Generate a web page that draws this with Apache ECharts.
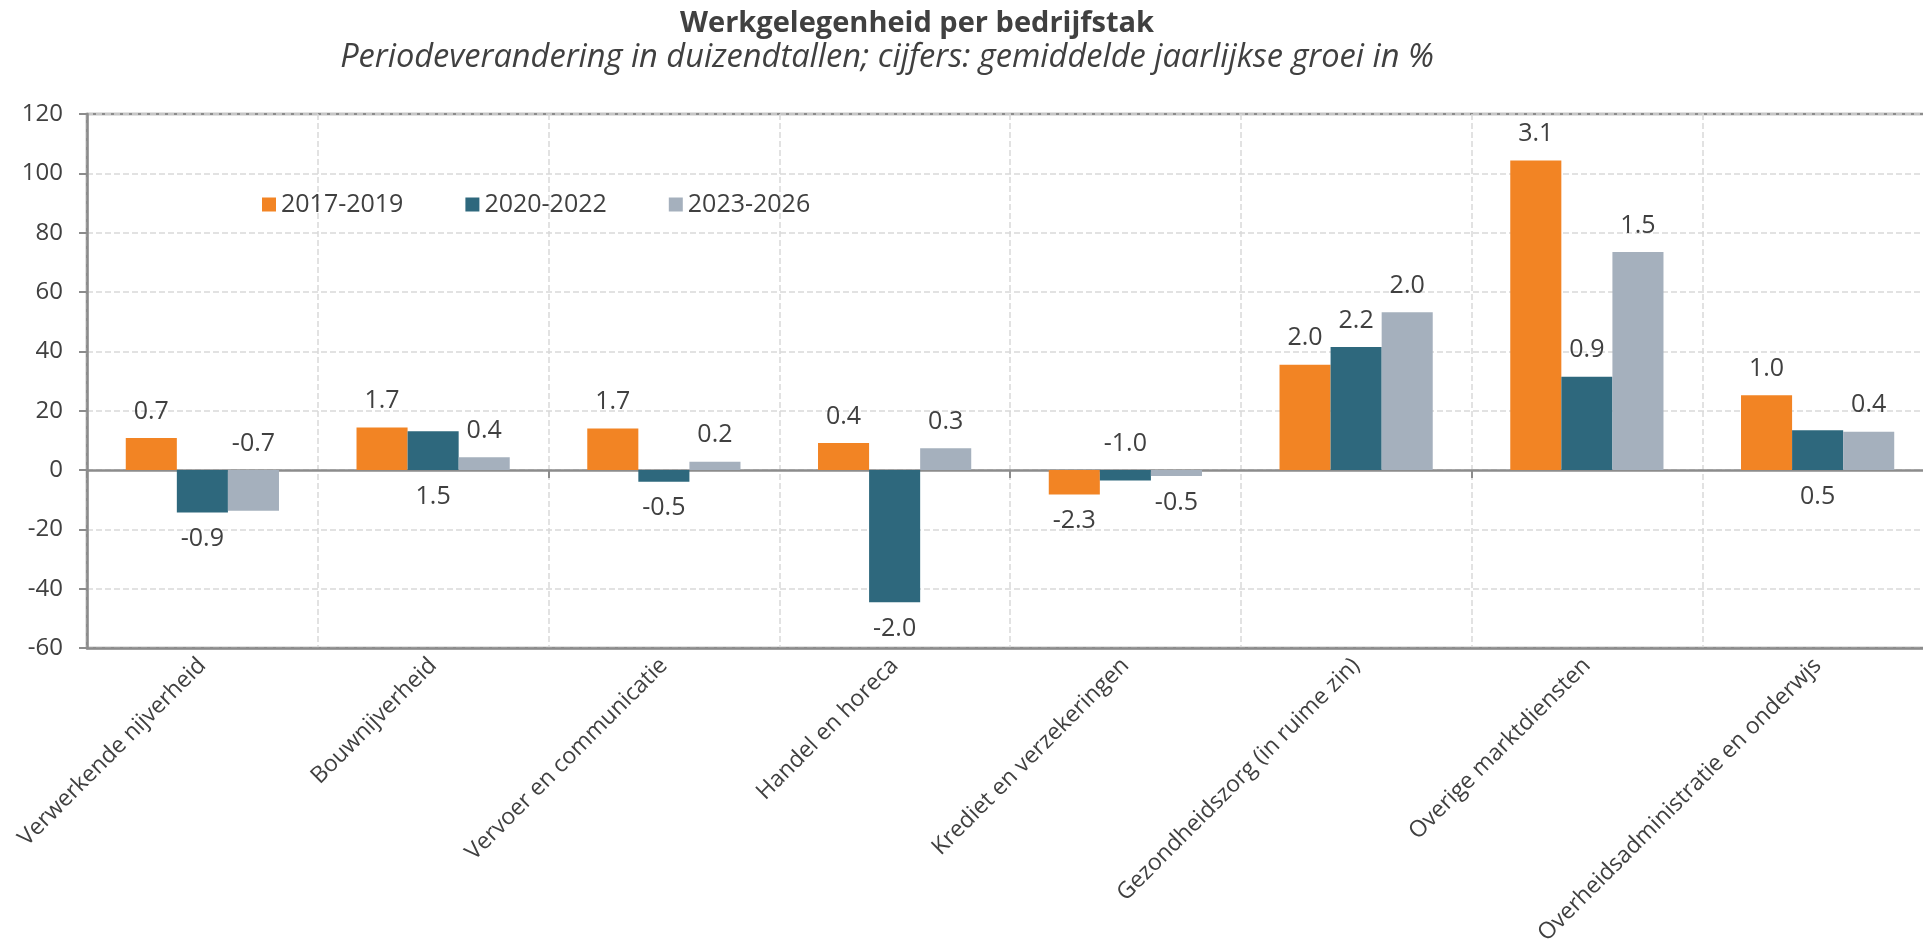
<!DOCTYPE html>
<html>
<head>
<meta charset="utf-8">
<title>Werkgelegenheid per bedrijfstak</title>
<script src="https://cdn.jsdelivr.net/npm/echarts@6/dist/echarts.min.js"></script>
<style>
  html, body { margin: 0; padding: 0; background: #fff; }
  #container { width: 1923px; height: 948px; }
</style>
</head>
<body>
<div id="container"></div>
<script>
// categorieën
var sectors = ['Verwerkende nijverheid', 'Bouwnijverheid', 'Vervoer en communicatie', 'Handel en horeca',
    'Krediet en verzekeringen', 'Gezondheidszorg (in ruime zin)', 'Overige marktdiensten',
    'Overheidsadministratie en onderwjs'];
var periods = ['2017-2019', '2020-2022', '2023-2026'];

// periodeverandering in duizendtallen
var change2017 = [10.8, 14.3, 14.0, 9.1, -8.3, 35.5, 104.3, 25.2];
var change2020 = [-14.3, 13.1, -4.0, -44.6, -3.5, 41.5, 31.4, 13.4];
var change2023 = [-13.7, 4.3, 2.8, 7.3, -2.0, 53.2, 73.5, 12.9];

// gemiddelde jaarlijkse groei in %
var growth2017 = ['0.7', '1.7', '1.7', '0.4', '-2.3', '2.0', '3.1', '1.0'];
var growth2020 = ['-0.9', '1.5', '-0.5', '-2.0', '-1.0', '2.2', '0.9', '0.5'];
var growth2023 = ['-0.7', '0.4', '0.2', '0.3', '-0.5', '2.0', '1.5', '0.4'];

var yTicks = { min: -60, max: 120, step: 20 };

var colors = ['#F28424', '#2E687D', '#A5B0BD'];
var textColor = '#404040';
var axisColor = '#8C8C8C';
var font = 'Open Sans';

// labels die aan de andere kant van de nullijn staan: [serie, categorie]
var flipped = [[1, 1], [1, 4], [1, 7], [2, 0]];

function isFlipped(s, i) {
    for (var k = 0; k < flipped.length; k++) {
        if (flipped[k][0] == s && flipped[k][1] == i) return true;
    }
    return false;
}

function buildSeries(s, values, labels) {
    var data = values.map(function (v, i) {
        var pos = v >= 0 ? 'top' : 'bottom';
        if (isFlipped(s, i)) pos = (pos == 'top') ? 'bottom' : 'top';
        return { value: v, label: { position: pos } };
    });
    return {
        name: periods[s],
        type: 'bar',
        xAxisIndex: 0,
        barGap: 0,
        barCategoryGap: '33.6%',
        itemStyle: { color: colors[s] },
        label: {
            show: true,
            distance: 14,
            fontFamily: font,
            fontSize: 25,
            color: textColor,
            formatter: function (p) { return labels[p.dataIndex]; }
        },
        data: data
    };
}

var dom = document.getElementById('container');
var myChart = echarts.init(dom);

var option = {
    animation: false,
    backgroundColor: '#fff',
    title: [
        {
            text: 'Werkgelegenheid per bedrijfstak',
            left: 912, top: 4, textAlign: 'center',
            textStyle: { fontFamily: font, fontSize: 29, fontWeight: 'bold', color: textColor }
        },
        {
            text: 'Periodeverandering in duizendtallen; cijfers: gemiddelde jaarlijkse groei in %',
            left: 882, top: 36, textAlign: 'center',
            textStyle: { fontFamily: font, fontSize: 32.6, fontStyle: 'italic', fontWeight: 'normal', color: textColor }
        }
    ],
    legend: {
        data: periods,
        left: 257,
        top: 187,
        icon: 'rect',
        itemWidth: 14,
        itemHeight: 14,
        itemGap: 62,
        textStyle: { fontFamily: font, fontSize: 25, color: textColor }
    },
    grid: {
        left: 87,
        top: 114,
        width: 1846,
        height: 534,
        outerBoundsMode: 'none',
        show: true,
        borderColor: axisColor,
        borderWidth: 2.5
    },
    xAxis: [
        {
            type: 'category',
            data: sectors,
            position: 'bottom',
            axisLine: { show: true, onZero: false, lineStyle: { color: axisColor, width: 2.5 } },
            axisTick: { show: false },
            splitLine: { show: true, lineStyle: { color: '#D9D9D9', type: 'dashed', width: 1.5 } },
            axisLabel: {
                interval: 0,
                rotate: 45,
                margin: 14,
                fontFamily: font,
                fontSize: 23,
                color: textColor
            }
        },
        {
            type: 'category',
            data: sectors,
            position: 'bottom',
            axisLine: { show: true, onZero: true, lineStyle: { color: axisColor, width: 2.5 } },
            axisTick: { show: true, length: 8, lineStyle: { color: axisColor, width: 2 } },
            axisLabel: { show: false },
            splitLine: { show: false }
        }
    ],
    yAxis: {
        type: 'value',
        min: yTicks.min,
        max: yTicks.max,
        interval: yTicks.step,
        axisLine: { show: true, lineStyle: { color: axisColor, width: 2.5 } },
        axisTick: { show: true, length: 8, lineStyle: { color: axisColor, width: 2 } },
        splitLine: { show: true, lineStyle: { color: '#D9D9D9', type: 'dashed', width: 1.5 } },
        axisLabel: { margin: 24, fontFamily: font, fontSize: 24, color: textColor }
    },
    series: [
        buildSeries(0, change2017, growth2017),
        buildSeries(1, change2020, growth2020),
        buildSeries(2, change2023, growth2023)
    ]
};

myChart.setOption(option, true);
</script>
</body>
</html>
